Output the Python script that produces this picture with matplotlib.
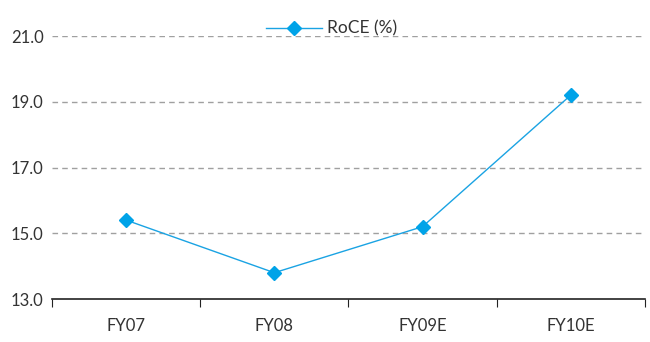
import matplotlib.pyplot as plt
import numpy as np

years = ["FY07", "FY08", "FY09E", "FY10E"]
roce = [15.4, 13.8, 15.2, 19.2]

plt.rcParams['font.family'] = ['Lato', 'DejaVu Sans']

fig = plt.figure(figsize=(6.5, 3.42), dpi=100)
ax = fig.add_axes([0.08, 0.1257, 0.912, 0.769])

x = np.arange(len(years))
ax.plot(x, roce, color="#1aa3e3", lw=1, marker="D", markersize=7,
        markerfacecolor="#00a3e8", markeredgecolor="#00a3e8", label="RoCE (%)", zorder=3)

ax.set_xlim(-0.5, len(years) - 0.5)
ax.set_ylim(13, 21)
ax.set_yticks([13, 15, 17, 19, 21])
ax.set_yticklabels(["%.1f" % v for v in [13, 15, 17, 19, 21]])
for v in [15, 17, 19, 21]:
    ax.axhline(v, color="#a0a0a0", lw=1, ls=(0, (4, 3)), zorder=1)

ax.set_xticks(np.arange(len(years) + 1) - 0.5)
ax.set_xticklabels([])
ax.set_xticks(x, minor=True)
ax.set_xticklabels(years, minor=True)
ax.tick_params(axis='x', which='major', direction='out', length=6, color="#222222")
ax.tick_params(axis='x', which='minor', length=0, pad=14, labelsize=12, labelcolor="#333333")
ax.tick_params(axis='y', length=0, pad=6, labelsize=12, labelcolor="#333333")

for s in ["left", "right", "top"]:
    ax.spines[s].set_visible(False)
ax.spines["bottom"].set_color("#222222")
ax.spines["bottom"].set_linewidth(1.2)

fig.legend(loc="upper center", bbox_to_anchor=(0.51, 0.985), frameon=False, fontsize=12.5,
           handlelength=3.2, handletextpad=0.3, labelcolor="#333333")

plt.savefig("out.png", dpi=100)
